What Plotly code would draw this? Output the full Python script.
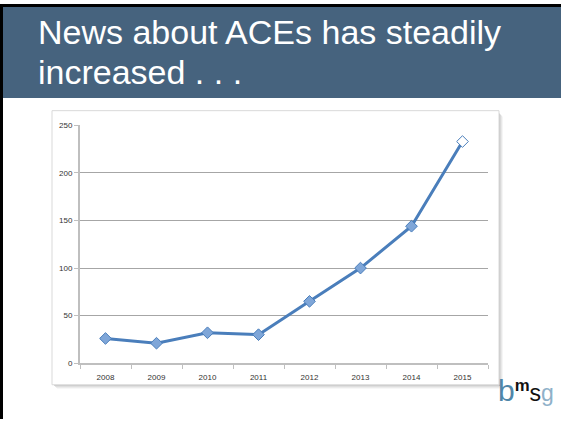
import plotly.graph_objects as go

W, H = 561, 424

years = ["2008", "2009", "2010", "2011", "2012", "2013", "2014", "2015"]
news_counts = [26, 21, 32, 30, 65, 100, 144, 233]
y_ticks = [0, 50, 100, 150, 200, 250]
title_lines = ["News about ACEs has steadily", "increased . . ."]


def px(x):
    return x / W


def py(y):
    return 1 - y / H


LINE_BLUE = "#4A7EBB"
MARK_FILL = "#7FA6D8"

marker_fill = [MARK_FILL] * (len(years) - 1) + ["white"]

fig = go.Figure()
fig.add_trace(go.Scatter(
    x=years, y=news_counts, mode="lines+markers",
    line=dict(color=LINE_BLUE, width=3),
    marker=dict(symbol="diamond", size=9, color=marker_fill,
                line=dict(color=LINE_BLUE, width=1)),
    showlegend=False, hoverinfo="x+y",
))

shapes = []
# chart box shadow
for i, op in enumerate([0.45, 0.3, 0.18, 0.08]):
    shapes.append(dict(type="rect", xref="paper", yref="paper",
                       x0=px(499 + i), x1=px(500 + i), y0=py(390 + i), y1=py(112 + i),
                       fillcolor="#808080", opacity=op, line=dict(width=0), layer="below"))
    shapes.append(dict(type="rect", xref="paper", yref="paper",
                       x0=px(54 + i), x1=px(500 + i), y0=py(390 + i), y1=py(389 + i),
                       fillcolor="#808080", opacity=op, line=dict(width=0), layer="below"))
# chart box
shapes.append(dict(type="rect", xref="paper", yref="paper",
                   x0=px(52), x1=px(499), y0=py(389), y1=py(109),
                   fillcolor="white", line=dict(color="#D9D9D9", width=1), layer="below"))
# banner
shapes.append(dict(type="rect", xref="paper", yref="paper",
                   x0=px(3), x1=1, y0=py(96), y1=py(3),
                   fillcolor="#46637E", line=dict(width=0)))
# black frame left and top
shapes.append(dict(type="rect", xref="paper", yref="paper",
                   x0=0, x1=px(3), y0=0, y1=1, fillcolor="black", line=dict(width=0)))
shapes.append(dict(type="rect", xref="paper", yref="paper",
                   x0=0, x1=1, y0=py(3), y1=1, fillcolor="black", line=dict(width=0)))

TITLE_FONT = dict(family="Liberation Sans, Arial", size=34, color="white")
logo_text = ("<span style='color:#4F86A9;font-size:30px'>b</span>"
             "<span style='font-size:24px'><b><sup>m</sup></b></span>"
             "<span style='font-size:23px'>s</span>"
             "<span style='color:#8FB1C9;font-size:23px'>g</span>")

annotations = [
    dict(text=title_lines[0], xref="paper", yref="paper", x=px(36), y=py(42),
         xanchor="left", yanchor="bottom", showarrow=False, yshift=-8,
         font=TITLE_FONT),
    dict(text=title_lines[1], xref="paper", yref="paper", x=px(36), y=py(83),
         xanchor="left", yanchor="bottom", showarrow=False, yshift=-8,
         font=TITLE_FONT),
    dict(text=logo_text, xref="paper", yref="paper", x=px(496), y=py(414), xanchor="left",
         yanchor="bottom", showarrow=False,
         font=dict(family="Liberation Sans, Arial", size=23, color="#111111")),
]

fig.update_layout(
    width=W, height=H,
    margin=dict(l=0, r=0, t=0, b=0),
    paper_bgcolor="white", plot_bgcolor="rgba(0,0,0,0)",
    shapes=shapes, annotations=annotations,
    xaxis=dict(domain=[px(80), px(488)], type="category", range=[-0.5, 7.5],
               tickson="boundaries", ticks="outside", ticklen=4, tickcolor="#BFBFBF",
               showline=True, linecolor="#BFBFBF", linewidth=2, showgrid=False,
               ticklabelstandoff=5,
               tickfont=dict(family="Liberation Sans, Arial", size=8, color="#333333"),
               fixedrange=True),
    yaxis=dict(domain=[py(367), py(124)], range=[0, 250], tickvals=y_ticks,
               ticks="outside", ticklen=4, tickcolor="#BFBFBF",
               showline=True, linecolor="#BFBFBF", linewidth=2,
               showgrid=True, gridcolor="#A6A6A6", gridwidth=1, zeroline=False,
               tickfont=dict(family="Liberation Sans, Arial", size=8, color="#333333"),
               fixedrange=True),
)

fig.write_html("out.html", config={"displayModeBar": False},
               post_script="document.body.style.margin='0';document.body.style.overflow='hidden';")
